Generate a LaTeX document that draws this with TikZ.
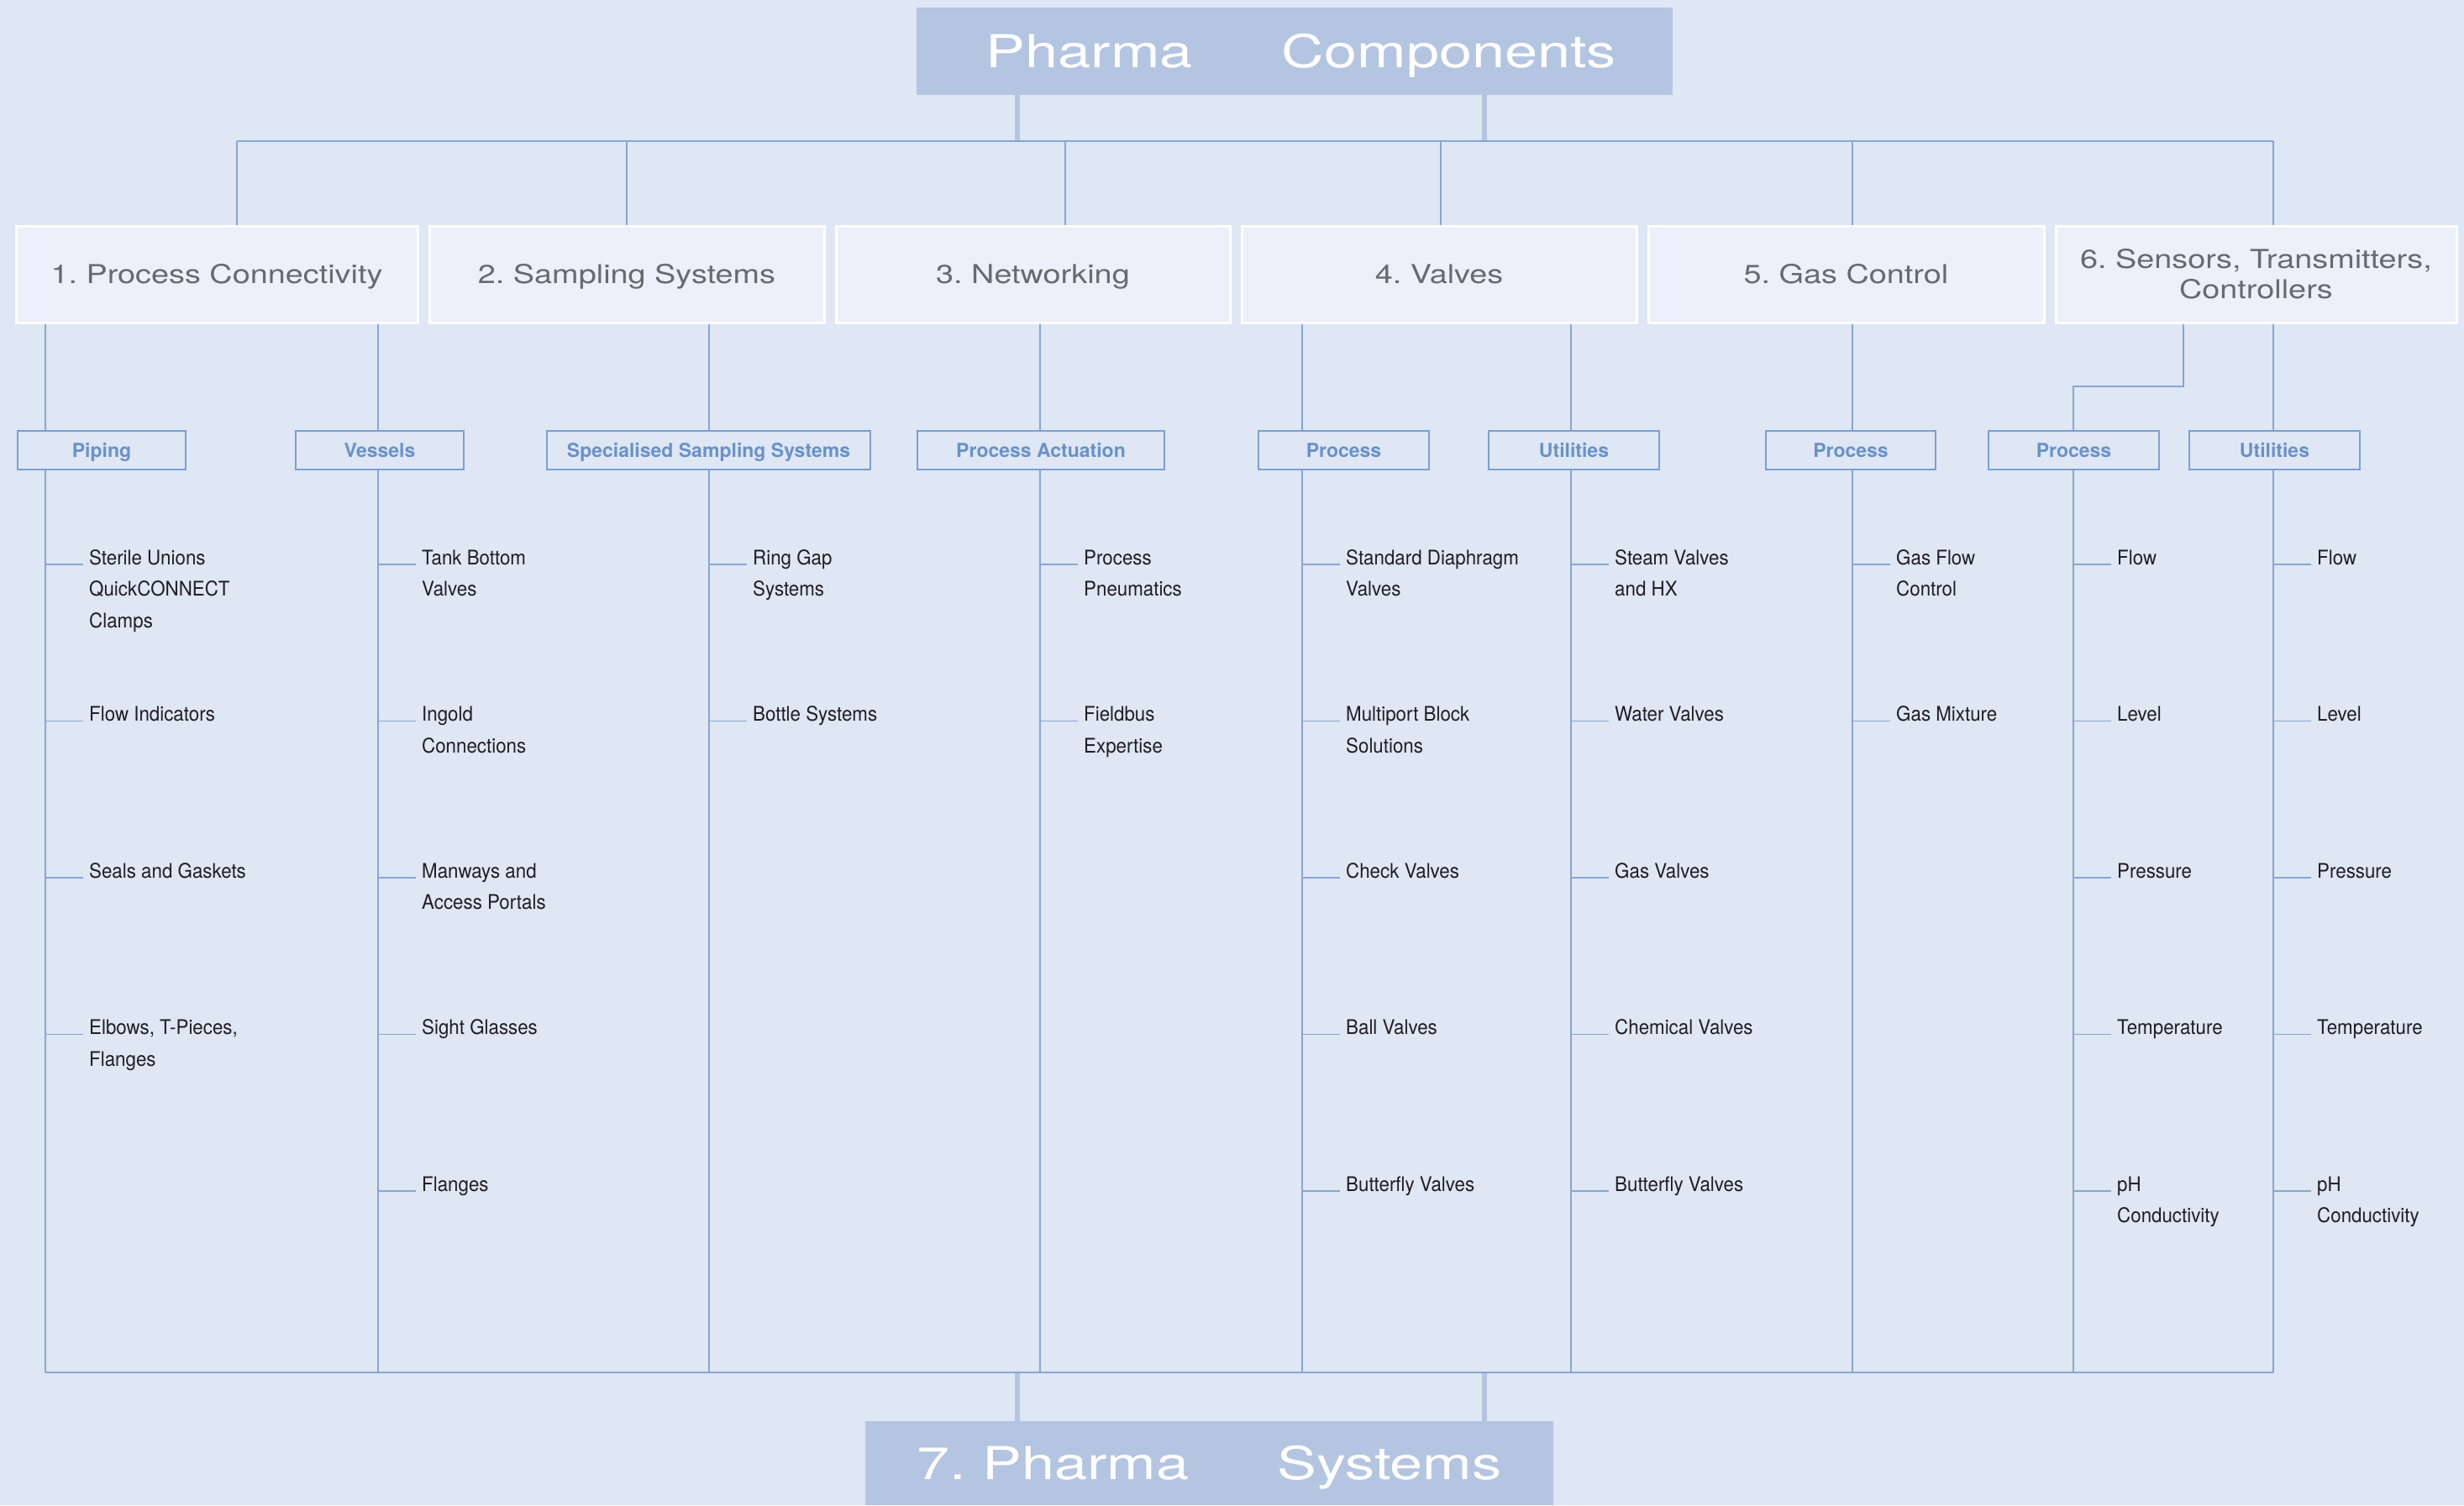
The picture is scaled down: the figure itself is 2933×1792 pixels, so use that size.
\documentclass[tikz,border=0pt]{standalone}
\usepackage{fontspec}
\setmainfont{TeX Gyre Heros}
\newfontfamily\titlefont[FakeStretch=1.3]{TeX Gyre Heros}
\newfontfamily\catfont[FakeStretch=1.22]{TeX Gyre Heros}
\newfontfamily\itemfont[FakeStretch=0.93]{TeX Gyre Heros}
\frenchspacing
\definecolor{bgc}{RGB}{223,230,244}
\definecolor{titlefill}{RGB}{180,197,226}
\definecolor{catfill}{RGB}{235,240,250}
\definecolor{linec}{RGB}{135,166,210}
\definecolor{subborder}{RGB}{125,160,208}
\definecolor{subtext}{RGB}{104,146,200}
\definecolor{cattext}{RGB}{105,105,110}
\definecolor{itemtext}{RGB}{30,30,35}
\newcommand{\itm}[4]{%
  \node[itm] (#1) at (#2,#3) {\begin{tabular}[t]{@{}l@{}}#4\end{tabular}};
  \draw[ln] ([xshift=-52pt]#1.base west) -- ([xshift=-7pt]#1.base west);}
\begin{document}
\begin{tikzpicture}[x=1pt,y=-1pt,
  ln/.style={draw=linec, line width=1.6pt},
  thk/.style={draw=titlefill, line width=6pt},
  titlebox/.style={fill=titlefill, text=white, font=\titlefont\fontsize{54}{60}\selectfont\frenchspacing, inner sep=0pt, text height=39pt, text depth=0pt},
  catbox/.style={fill=catfill, draw=white, line width=3pt, text=cattext, font=\catfont\fontsize{31}{36}\selectfont\frenchspacing, minimum height=115pt, inner sep=0pt, text height=22pt, text depth=0pt},
  subbox/.style={draw=subborder, line width=2pt, fill=bgc, text=subtext, font=\bfseries\fontsize{23}{26}\selectfont, minimum height=46pt, inner sep=0pt, text height=16.5pt, text depth=0pt},
  itm/.style={anchor=base west, inner sep=0pt, text=itemtext, font=\itemfont\fontsize{24}{37.5}\selectfont\frenchspacing}
]
\fill[bgc] (0,0) rectangle (2933,1792);
\useasboundingbox (0,0) rectangle (2933,1792);

% title and bottom boxes
\node[titlebox, minimum width=900pt, minimum height=104pt] (T) at (1541,61) {\hspace*{16pt}Pharma\hspace{106pt}Components};
\node[titlebox, minimum width=819pt, minimum height=100pt] (B) at (1439.5,1742) {7. Pharma\hspace{105pt}Systems};

% categories
\node[catbox, minimum width=478pt] (C1) at (258,326.5) {1. Process Connectivity};
\node[catbox, minimum width=470pt] (C2) at (746,326.5) {2. Sampling Systems};
\node[catbox, minimum width=469pt] (C3) at (1229.5,326.5) {3. Networking};
\node[catbox, minimum width=470pt] (C4) at (1713,326.5) {4. Valves};
\node[catbox, minimum width=471pt] (C5) at (2197.5,326.5) {5. Gas Control};
\node[catbox, minimum width=477pt, align=center, text height=58pt] (C6) at (2685.5,326.5) {6. Sensors, Transmitters,\\Controllers};

% bus coordinates
\coordinate (t1) at (282,168);
\coordinate (t2) at (746,168);
\coordinate (t3) at (1268,168);
\coordinate (t4) at (1715,168);
\coordinate (t5) at (2205,168);
\coordinate (t6) at (2706,168);
\coordinate (hl) at (1211,168);
\coordinate (hr) at (1767,168);
\coordinate (bl) at (1211,1634);
\coordinate (br) at (1767,1634);

% column bottoms
\coordinate (L1) at (54,1634);
\coordinate (L2) at (450,1634);
\coordinate (L3) at (844,1634);
\coordinate (L4) at (1238,1634);
\coordinate (L5) at (1550,1634);
\coordinate (L6) at (1870,1634);
\coordinate (L7) at (2205,1634);
\coordinate (L8) at (2468,1634);
\coordinate (L9) at (2706,1634);
\coordinate (e6) at (2599,460);

% thick connectors
\draw[thk] (T.south -| hl) -- (hl);
\draw[thk] (T.south -| hr) -- (hr);
\draw[thk] (bl) -- (bl |- B.north);
\draw[thk] (br) -- (br |- B.north);

% top bus
\draw[ln] (t1) -- (t6);
\draw[ln] (t1) -- (t1 |- C1.north);
\draw[ln] (t2) -- (t2 |- C2.north);
\draw[ln] (t3) -- (t3 |- C3.north);
\draw[ln] (t4) -- (t4 |- C4.north);
\draw[ln] (t5) -- (t5 |- C5.north);
\draw[ln] (t6) -- (t6 |- C6.north);

% sub boxes
\node[subbox, minimum width=200pt] (P1) at (121,536) {Piping};
\node[subbox, minimum width=200pt] (P2) at (452,536) {Vessels};
\node[subbox, minimum width=385pt] (P3) at (843.5,536) {Specialised Sampling Systems};
\node[subbox, minimum width=294pt] (P4) at (1239,536) {Process Actuation};
\node[subbox, minimum width=203pt] (P5) at (1599.5,536) {Process};
\node[subbox, minimum width=203pt] (P6) at (1873.5,536) {Utilities};
\node[subbox, minimum width=202pt] (P7) at (2203,536) {Process};
\node[subbox, minimum width=203pt] (P8) at (2468.5,536) {Process};
\node[subbox, minimum width=203pt] (P9) at (2707.5,536) {Utilities};

% category to sub boxes
\draw[ln] (C1.south -| L1) -- (P1.north -| L1);
\draw[ln] (C1.south -| L2) -- (P2.north -| L2);
\draw[ln] (C2.south -| L3) -- (P3.north -| L3);
\draw[ln] (C3.south -| L4) -- (P4.north -| L4);
\draw[ln] (C4.south -| L5) -- (P5.north -| L5);
\draw[ln] (C4.south -| L6) -- (P6.north -| L6);
\draw[ln] (C5.south -| L7) -- (P7.north -| L7);
\draw[ln] (C6.south -| e6) -- (e6) -| (P8.north -| L8);
\draw[ln] (C6.south -| L9) -- (P9.north -| L9);

% sub boxes to bottom bus
\draw[ln] (P1.south -| L1) -- (L1);
\draw[ln] (P2.south -| L2) -- (L2);
\draw[ln] (P3.south -| L3) -- (L3);
\draw[ln] (P4.south -| L4) -- (L4);
\draw[ln] (P5.south -| L5) -- (L5);
\draw[ln] (P6.south -| L6) -- (L6);
\draw[ln] (P7.south -| L7) -- (L7);
\draw[ln] (P8.south -| L8) -- (L8);
\draw[ln] (P9.south -| L9) -- (L9);
\draw[ln] (L1) -- (L9);

% items
\itm{a1}{106}{672}{Sterile Unions\\QuickCONNECT\\Clamps}
\itm{a2}{106}{858.5}{Flow Indicators}
\itm{a3}{106}{1045}{Seals and Gaskets}
\itm{a4}{106}{1231.5}{Elbows, T-Pieces,\\Flanges}

\itm{b1}{502}{672}{Tank Bottom\\Valves}
\itm{b2}{502}{858.5}{Ingold\\Connections}
\itm{b3}{502}{1045}{Manways and\\Access Portals}
\itm{b4}{502}{1231.5}{Sight Glasses}
\itm{b5}{502}{1418}{Flanges}

\itm{c1}{896}{672}{Ring Gap\\Systems}
\itm{c2}{896}{858.5}{Bottle Systems}

\itm{d1}{1290}{672}{Process\\Pneumatics}
\itm{d2}{1290}{858.5}{Fieldbus\\Expertise}

\itm{f1}{1602}{672}{Standard Diaphragm\\Valves}
\itm{f2}{1602}{858.5}{Multiport Block\\Solutions}
\itm{f3}{1602}{1045}{Check Valves}
\itm{f4}{1602}{1231.5}{Ball Valves}
\itm{f5}{1602}{1418}{Butterfly Valves}

\itm{g1}{1922}{672}{Steam Valves\\and HX}
\itm{g2}{1922}{858.5}{Water Valves}
\itm{g3}{1922}{1045}{Gas Valves}
\itm{g4}{1922}{1231.5}{Chemical Valves}
\itm{g5}{1922}{1418}{Butterfly Valves}

\itm{h1}{2257}{672}{Gas Flow\\Control}
\itm{h2}{2257}{858.5}{Gas Mixture}

\itm{k1}{2520}{672}{Flow}
\itm{k2}{2520}{858.5}{Level}
\itm{k3}{2520}{1045}{Pressure}
\itm{k4}{2520}{1231.5}{Temperature}
\itm{k5}{2520}{1418}{pH\\Conductivity}

\itm{m1}{2758}{672}{Flow}
\itm{m2}{2758}{858.5}{Level}
\itm{m3}{2758}{1045}{Pressure}
\itm{m4}{2758}{1231.5}{Temperature}
\itm{m5}{2758}{1418}{pH\\Conductivity}
\end{tikzpicture}
\end{document}
